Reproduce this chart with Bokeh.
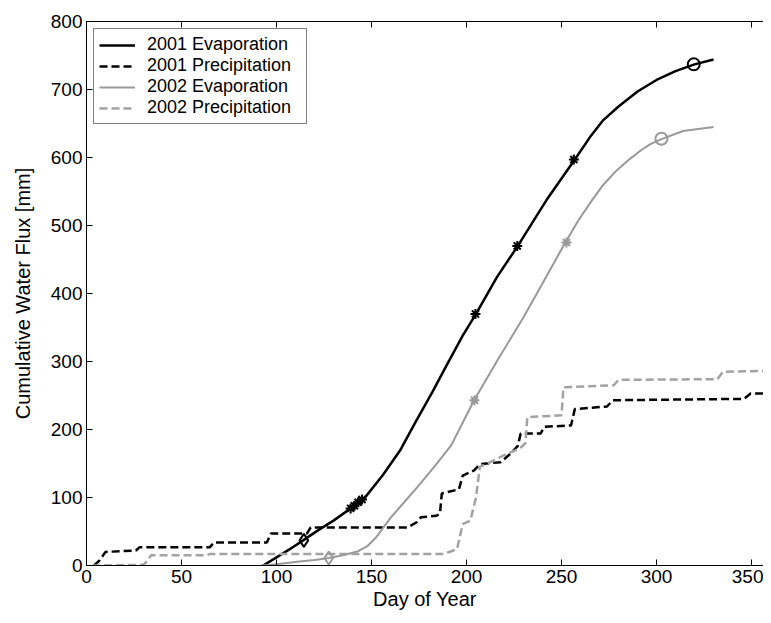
from bokeh.plotting import figure
from bokeh.models import Range1d, LinearAxis, FixedTicker
from bokeh.embed import file_html
from bokeh.resources import INLINE

# ---------------- data ----------------
x_ticks = [0, 50, 100, 150, 200, 250, 300, 350]
y_ticks = [0, 100, 200, 300, 400, 500, 600, 700, 800]

evap01_day = [93, 100, 107, 114, 122, 130, 139, 146, 156, 165, 173, 182, 190, 198, 205,
              216, 227, 242, 257, 265, 272, 280, 290, 300, 310, 320, 330]
evap01_val = [0, 12, 24, 37, 52, 66, 84, 98, 133, 169, 210, 255, 297, 338, 370,
              424, 470, 537, 597, 630, 655, 675, 697, 714, 727, 737, 744]

evap02_day = [92, 100, 112, 120, 127.5, 135, 143, 148, 152, 156, 160, 165, 174, 183,
              192, 198, 204, 217, 230, 241, 252, 259, 266, 272, 279, 286, 292, 297,
              302.6, 314, 322, 330]
evap02_val = [0, 2, 6, 8, 11, 15, 21, 29, 40, 55, 70, 86, 115, 145,
              177, 210, 243, 305, 365, 420, 475, 508, 537, 560, 581, 598, 611, 620,
              627, 639, 642, 645]

prec01_day = [4, 7, 10, 26, 28, 65, 67, 95, 97, 116, 118, 169, 174, 176, 184, 186, 187,
              196, 198, 204, 207, 218, 223, 227, 228.5, 239, 241, 255, 257, 274, 277,
              309, 346, 349.5, 360]
prec01_val = [0, 8, 20, 22, 27, 27, 34, 34, 47, 47, 56, 56, 64, 71, 73, 76, 106,
              112, 132, 140, 149, 152, 164, 176, 194, 194, 204, 206, 230, 234, 243,
              244, 245, 253, 253]

prec02_day = [3, 30, 32, 34, 63, 65, 188, 195, 198, 202, 205, 207, 214, 221, 228, 231,
              232, 250, 251, 277.5, 280, 332, 335, 356, 360]
prec02_val = [0, 1, 7, 15, 15, 17, 17, 24, 61, 66, 100, 145, 154, 164, 172, 180,
              218, 221, 262, 265, 273, 274, 285, 286, 293]

# markers
m01_diamond = ([114.4], [37])
m01_star = ([139, 141, 143, 145, 204.7, 226.7, 256.5], [84, 88, 93, 97, 370, 470, 597])
m01_circle = ([319.6], [737])
m02_diamond = ([127.5], [11])
m02_star = ([204.2, 252.6], [243, 475])
m02_circle = ([302.6], [627.5])

FONT = "Liberation Sans"
GRAY = "#999999"
GRAY_P = "#a2a2a2"

p = figure(width=763, height=615, x_range=Range1d(0, 356.3), y_range=Range1d(0, 800),
           output_backend="svg", toolbar_location=None,
           min_border_left=86, min_border_top=21, min_border_bottom=50, min_border_right=0)

p.xgrid.grid_line_color = None
p.ygrid.grid_line_color = None
p.outline_line_color = None
p.background_fill_color = "white"

for ax, ticks in ((p.xaxis[0], x_ticks), (p.yaxis[0], y_ticks)):
    ax.ticker = FixedTicker(ticks=ticks)
    ax.major_tick_in = 6
    ax.major_tick_out = 0
    ax.minor_tick_line_color = None
    ax.axis_line_color = "black"
    ax.major_tick_line_color = "black"
    ax.major_label_text_font = FONT
    ax.major_label_text_font_size = "19px"
    ax.major_label_text_color = "black"
    ax.axis_label_text_font = FONT
    ax.axis_label_text_font_size = "20px"
    ax.axis_label_text_font_style = "normal"
    ax.axis_label_text_color = "black"

p.xaxis.axis_label = "Day of Year"
p.yaxis.axis_label = "Cumulative Water Flux [mm]"
p.xaxis.major_label_standoff = 4
p.xaxis.axis_label_standoff = 2
p.yaxis.major_label_standoff = 4
p.yaxis.axis_label_standoff = 14

top = LinearAxis(ticker=FixedTicker(ticks=x_ticks), major_tick_in=6, major_tick_out=0,
                 minor_tick_line_color=None, major_label_text_font_size="8px",
                 major_label_text_color=None, major_label_standoff=0,
                 axis_line_color="black", major_tick_line_color="black")
p.add_layout(top, "above")

p.line(evap01_day, evap01_val, line_color="black", line_width=2.5, legend_label="2001 Evaporation")
p.line(prec01_day, prec01_val, line_color="black", line_width=2.5, line_dash="8 4",
       legend_label="2001 Precipitation")
p.line(evap02_day, evap02_val, line_color=GRAY, line_width=2, legend_label="2002 Evaporation")
p.line(prec02_day, prec02_val, line_color=GRAY_P, line_width=2.5, line_dash="8 4",
       legend_label="2002 Precipitation")

p.scatter(*m01_diamond, marker="diamond", size=13, fill_color=None, line_color="black", line_width=2)
p.scatter(*m01_star, marker="asterisk", size=10, line_color="black", line_width=2)
p.scatter(*m01_circle, marker="circle", size=12, fill_color=None, line_color="black", line_width=2)
p.scatter(*m02_diamond, marker="diamond", size=13, fill_color=None, line_color=GRAY, line_width=2)
p.scatter(*m02_star, marker="asterisk", size=10, line_color=GRAY, line_width=2)
p.scatter(*m02_circle, marker="circle", size=12, fill_color=None, line_color=GRAY, line_width=2)

lg = p.legend[0]
lg.location = "top_left"
lg.margin = 7
lg.padding = 5
lg.spacing = 0
lg.glyph_width = 36
lg.glyph_height = 20
lg.label_height = 20
lg.label_width = 154
lg.label_standoff = 12
lg.label_text_font = FONT
lg.label_text_font_size = "18px"
lg.label_text_color = "black"
lg.border_line_color = "black"
lg.border_line_width = 1
lg.background_fill_alpha = 1

open("out.html", "w").write(file_html(p, INLINE))
